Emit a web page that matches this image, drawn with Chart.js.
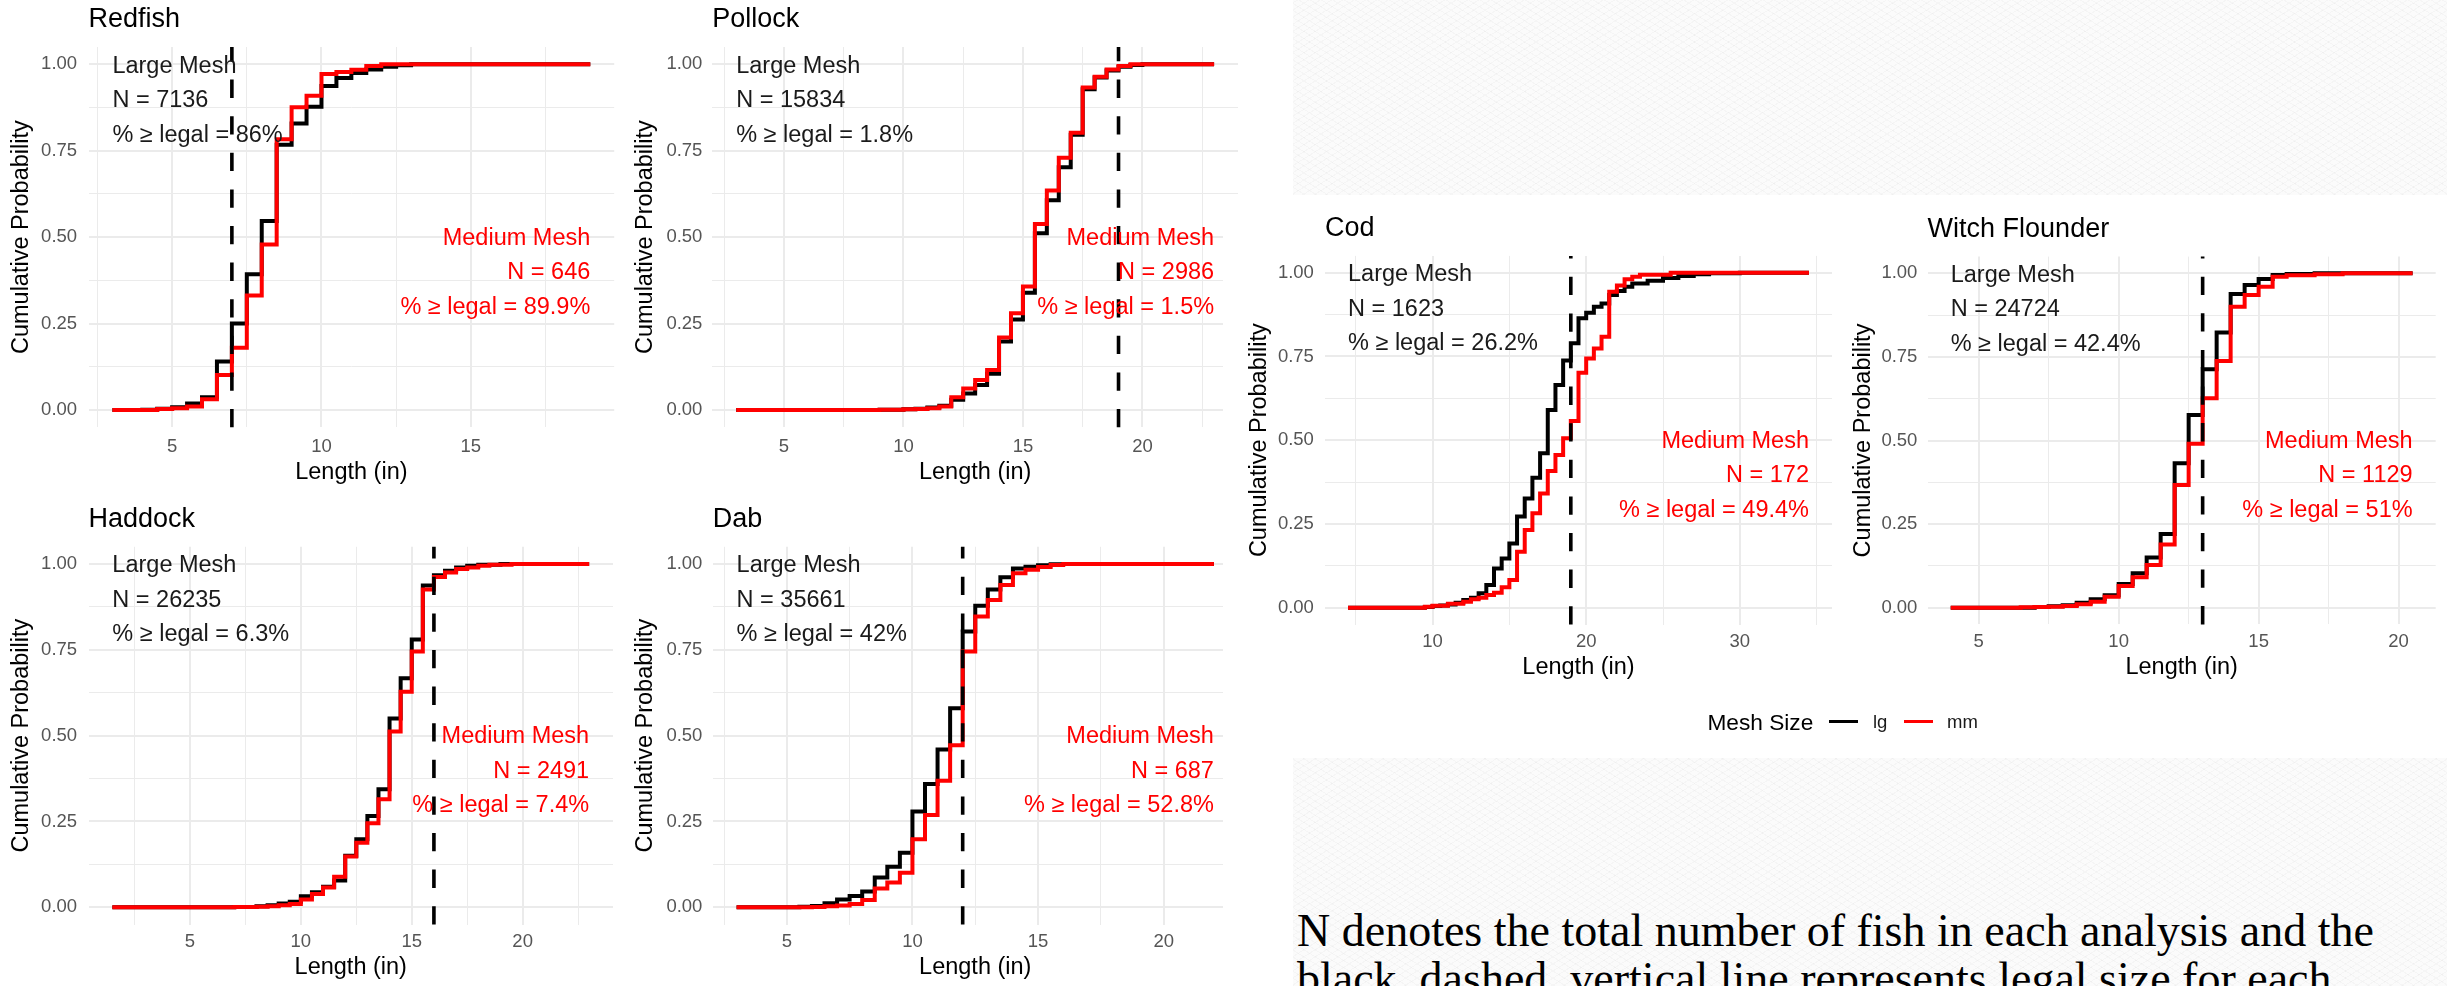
<!DOCTYPE html>
<html>
<head>
<meta charset="utf-8">
<title>Cumulative length distributions by mesh size</title>
<script src="https://cdn.jsdelivr.net/npm/chart.js"></script>
<style>
  html, body { margin: 0; padding: 0; background: #fff; }
  body { position: relative; width: 2447px; height: 986px; overflow: hidden; font-family: "Liberation Sans", Arial, sans-serif; }
  canvas { position: absolute; }
  .sheet { position: absolute; background: #fff; z-index: 2; }
  .texture {
    position: absolute; z-index: 3;
    background-color: #fbfbfb;
    background-image:
      repeating-linear-gradient(32deg, rgba(0,0,0,0.022) 0 1px, transparent 1px 6px),
      repeating-linear-gradient(-32deg, rgba(0,0,0,0.022) 0 1px, transparent 1px 6px);
  }
  #legend { position: absolute; left: 0; top: 706.7px; height: 30px; width: 2447px; z-index: 5; }
  #legend span { position: absolute; top: 0; line-height: 30px; white-space: nowrap; color: #1a1a1a; }
  #legend .key { top: 13.2px; height: 3.5px; width: 29.3px; }
  #caption {
    position: absolute; left: 1297px; top: 907px; z-index: 5;
    font: 46px/48px "Liberation Serif", "Times New Roman", serif; color: #000; white-space: nowrap;
  }
</style>
</head>
<body>
<div class="sheet" style="left:1223px; top:195px; width:1224px; height:791px;"></div>
<div class="texture" style="left:1293px; top:0; width:1154px; height:195px;"></div>
<div class="texture" style="left:1293px; top:758px; width:1154px; height:228px;"></div>

<div id="legend">
  <span style="left:1707.4px; font-size:22.7px; color:#000;">Mesh Size</span>
  <span class="key" style="left:1829px; background:#000;"></span>
  <span style="left:1873px; font-size:18.5px;">lg</span>
  <span class="key" style="left:1903.7px; background:#ff0000;"></span>
  <span style="left:1947px; font-size:18.5px;">mm</span>
</div>

<div id="caption">N denotes the total number of fish in each analysis and the<br>black, dashed, vertical line represents legal size for each</div>

<script>
// Panel order: Redfish, Pollock, Haddock, Dab (left block), then Cod and Witch Flounder
const species = ['Redfish', 'Pollock', 'Haddock', 'Dab', 'Cod', 'Witch Flounder'];
const legalSize = [7, 19, 16, 12, 19, 13];
const largeN = [7136, 15834, 26235, 35661, 1623, 24724];
const largePctLegal = [86, 1.8, 6.3, 42, 26.2, 42.4];
const mediumN = [646, 2986, 2491, 687, 172, 1129];
const mediumPctLegal = [89.9, 1.5, 7.4, 52.8, 49.4, 51];
const lengthBreaks = [[5, 10, 15], [5, 10, 15, 20], [5, 10, 15, 20], [5, 10, 15, 20], [10, 20, 30], [5, 10, 15, 20]];
const probBreaks = [0, 0.25, 0.5, 0.75, 1];

// ECDF break points (length in inches, cumulative probability), lg = large mesh, mm = medium mesh
const redfishLgLen = [3, 4, 4.5, 5, 5.5, 6, 6.5, 7, 7.5, 8, 8.5, 9, 9.5, 10, 10.5, 11, 11.5, 12, 12.5, 13, 19];
const redfishLgCum = [0, 0.001, 0.004, 0.008, 0.019, 0.037, 0.14, 0.25, 0.393, 0.547, 0.767, 0.829, 0.877, 0.937, 0.96, 0.975, 0.985, 0.993, 0.997, 1, 1];
const redfishMmLen = [3, 4.5, 5, 5.5, 6, 6.5, 7, 7.5, 8, 8.5, 9, 9.5, 10, 10.5, 11, 11.5, 12, 19];
const redfishMmCum = [0, 0.003, 0.005, 0.01, 0.031, 0.101, 0.18, 0.331, 0.479, 0.783, 0.876, 0.909, 0.972, 0.978, 0.984, 0.995, 1, 1];

const pollockLgLen = [3, 9, 10, 10.5, 11, 11.5, 12, 12.5, 13, 13.5, 14, 14.5, 15, 15.5, 16, 16.5, 17, 17.5, 18, 18.5, 19, 19.5, 20, 23];
const pollockLgCum = [0, 0.001, 0.002, 0.004, 0.007, 0.012, 0.03, 0.048, 0.072, 0.105, 0.198, 0.262, 0.339, 0.511, 0.607, 0.702, 0.796, 0.928, 0.962, 0.982, 0.993, 0.998, 1, 1];
const pollockMmLen = [3, 9, 10, 10.5, 11, 11.5, 12, 12.5, 13, 13.5, 14, 14.5, 15, 15.5, 16, 16.5, 17, 17.5, 18, 18.5, 19, 19.5, 23];
const pollockMmCum = [0, 0.001, 0.002, 0.003, 0.005, 0.01, 0.037, 0.062, 0.087, 0.116, 0.21, 0.28, 0.357, 0.538, 0.635, 0.73, 0.802, 0.933, 0.964, 0.985, 0.995, 1, 1];

const haddockLgLen = [1.5, 7, 8, 8.5, 9, 9.5, 10, 10.5, 11, 11.5, 12, 12.5, 13, 13.5, 14, 14.5, 15, 15.5, 16, 16.5, 17, 17.5, 18, 19, 23];
const haddockLgCum = [0, 0.001, 0.003, 0.006, 0.011, 0.016, 0.032, 0.044, 0.06, 0.078, 0.15, 0.198, 0.266, 0.344, 0.55, 0.667, 0.78, 0.937, 0.967, 0.98, 0.99, 0.995, 0.998, 1, 1];
const haddockMmLen = [1.5, 7, 8, 8.5, 9, 9.5, 10, 10.5, 11, 11.5, 12, 12.5, 13, 13.5, 14, 14.5, 15, 15.5, 16, 16.5, 17, 17.5, 18, 18.5, 19.5, 23];
const haddockMmCum = [0, 0.001, 0.002, 0.003, 0.006, 0.01, 0.023, 0.039, 0.058, 0.089, 0.148, 0.188, 0.245, 0.315, 0.512, 0.628, 0.745, 0.926, 0.962, 0.975, 0.985, 0.99, 0.995, 0.998, 1, 1];

const dabLgLen = [3, 5.5, 6, 6.5, 7, 7.5, 8, 8.5, 9, 9.5, 10, 10.5, 11, 11.5, 12, 12.5, 13, 13.5, 14, 14.5, 15, 15.5, 16, 22];
const dabLgCum = [0, 0.002, 0.004, 0.012, 0.023, 0.033, 0.046, 0.087, 0.118, 0.159, 0.279, 0.359, 0.46, 0.58, 0.803, 0.878, 0.926, 0.961, 0.987, 0.992, 0.996, 0.999, 1, 1];
const dabMmLen = [3, 6, 6.5, 7, 7.5, 8, 8.5, 9, 9.5, 10, 10.5, 11, 11.5, 12, 12.5, 13, 13.5, 14, 14.5, 15, 15.5, 16, 22];
const dabMmCum = [0, 0.001, 0.003, 0.005, 0.01, 0.021, 0.055, 0.072, 0.101, 0.198, 0.269, 0.369, 0.472, 0.745, 0.847, 0.895, 0.939, 0.973, 0.983, 0.991, 0.997, 1, 1];

const codLgLen = [4.5, 9.5, 10, 10.5, 11, 11.5, 12, 12.5, 13, 13.5, 14, 14.5, 15, 15.5, 16, 16.5, 17, 17.5, 18, 18.5, 19, 19.5, 20, 20.5, 21, 21.5, 22, 22.5, 23, 24, 25, 26, 27, 28, 30, 34.5];
const codLgCum = [0, 0.002, 0.005, 0.007, 0.01, 0.015, 0.023, 0.03, 0.043, 0.068, 0.117, 0.147, 0.192, 0.272, 0.326, 0.388, 0.461, 0.59, 0.665, 0.738, 0.789, 0.864, 0.88, 0.898, 0.908, 0.933, 0.945, 0.958, 0.968, 0.976, 0.984, 0.99, 0.995, 0.998, 1, 1];
const codMmLen = [4.5, 9.5, 10, 11, 12, 12.5, 13, 13.5, 14, 14.5, 15, 15.5, 16, 16.5, 17, 17.5, 18, 18.5, 19, 19.5, 20, 20.5, 21, 21.5, 22, 22.5, 23, 23.5, 25.5, 34.5];
const codMmCum = [0, 0.003, 0.006, 0.012, 0.018, 0.025, 0.03, 0.038, 0.045, 0.061, 0.083, 0.167, 0.232, 0.282, 0.341, 0.408, 0.456, 0.506, 0.557, 0.701, 0.744, 0.774, 0.809, 0.943, 0.962, 0.98, 0.988, 0.994, 1, 1];

const witchLgLen = [4, 7, 7.5, 8, 8.5, 9, 9.5, 10, 10.5, 11, 11.5, 12, 12.5, 13, 13.5, 14, 14.5, 15, 15.5, 16, 17, 20.5];
const witchLgCum = [0, 0.002, 0.004, 0.007, 0.015, 0.025, 0.037, 0.071, 0.103, 0.15, 0.22, 0.432, 0.576, 0.713, 0.823, 0.938, 0.965, 0.983, 0.995, 0.998, 1, 1];
const witchMmLen = [4, 6.5, 7, 7.5, 8, 8.5, 9, 9.5, 10, 10.5, 11, 11.5, 12, 12.5, 13, 13.5, 14, 14.5, 15, 15.5, 16, 17, 18, 20.5];
const witchMmCum = [0, 0.001, 0.002, 0.003, 0.005, 0.01, 0.018, 0.033, 0.065, 0.091, 0.128, 0.189, 0.367, 0.49, 0.626, 0.738, 0.9, 0.935, 0.96, 0.99, 0.994, 0.997, 1, 1];

const meshSeries = [
    [redfishLgLen, redfishLgCum, redfishMmLen, redfishMmCum],
    [pollockLgLen, pollockLgCum, pollockMmLen, pollockMmCum],
    [haddockLgLen, haddockLgCum, haddockMmLen, haddockMmCum],
    [dabLgLen, dabLgCum, dabMmLen, dabMmCum],
    [codLgLen, codLgCum, codMmLen, codMmCum],
    [witchLgLen, witchLgCum, witchMmLen, witchMmCum]
];

// Where each panel sits on the page (canvas box + plotting area, page pixels)
const frames = [
    { id: 'redfish', left: 0, top: 0, width: 615, height: 492, plot: { l: 88.5, t: 47, r: 614.2, b: 427.3 }, titleY: 20, yTitleX: 21.7, yPad: 11.4, xTickY: 447, xTitleY: 473, z: 1 },
    { id: 'pollock', left: 620, top: 0, width: 618, height: 492, plot: { l: 712.3, t: 47, r: 1238, b: 427.3 }, titleY: 20, yTitleX: 646, yPad: 9.9, xTickY: 447, xTitleY: 473, z: 1 },
    { id: 'haddock', left: 0, top: 492, width: 615, height: 494, plot: { l: 88.5, t: 546.8, r: 613, b: 924.5 }, titleY: 520, yTitleX: 21.7, yPad: 11.4, xTickY: 942, xTitleY: 968, z: 1 },
    { id: 'dab', left: 620, top: 492, width: 618, height: 494, plot: { l: 712.7, t: 546.8, r: 1237.8, b: 924.5 }, titleY: 520, yTitleX: 646, yPad: 10.3, xTickY: 942, xTitleY: 968, z: 1 },
    { id: 'cod', left: 1240, top: 200, width: 592, height: 486, plot: { l: 1325, t: 255.9, r: 1832, b: 624.5 }, titleY: 229, yTitleX: 1259.5, yPad: 11.1, xTickY: 641.7, xTitleY: 667.3, z: 4 },
    { id: 'witch', left: 1840, top: 200, width: 600, height: 486, plot: { l: 1927.6, t: 256.6, r: 2435.7, b: 624.4 }, titleY: 229.3, yTitleX: 1863.4, yPad: 10.2, xTickY: 641.7, xTitleY: 667.3, z: 4 }
];

const SANS = '"Liberation Sans", Arial, Helvetica, sans-serif';
const GRID = '#ebebeb';
const TITLE_SIZE = 27, TICK_SIZE = 18.5, AXIS_SIZE = 23.5, NOTE_SIZE = 23.5;
const LH = 1.2;

// Dashed legal-size line plus the two text blocks (large mesh top-left, medium mesh right)
const meshNotes = {
    id: 'meshNotes',
    afterDatasetsDraw(chart, args, opts) {
        const { ctx, chartArea, scales: { x, y } } = chart;
        ctx.save();

        const lx = x.getPixelForValue(opts.legal);
        ctx.strokeStyle = '#000';
        ctx.lineWidth = 3.6;
        ctx.setLineDash([18.3, 18.3]);
        ctx.beginPath();
        ctx.moveTo(lx, chartArea.bottom);
        ctx.lineTo(lx, chartArea.top);
        ctx.stroke();
        ctx.setLineDash([]);

        ctx.font = `${NOTE_SIZE}px ${SANS}`;
        ctx.textBaseline = 'middle';
        ctx.fillStyle = '#1a1a1a';
        ctx.textAlign = 'left';
        opts.large.forEach((line, k) => {
            ctx.fillText(line, x.getPixelForValue(opts.from), y.getPixelForValue(1) + 2 + k * 34.5);
        });
        ctx.fillStyle = '#ff0000';
        ctx.textAlign = 'right';
        opts.medium.forEach((line, k) => {
            ctx.fillText(line, x.getPixelForValue(opts.to), y.getPixelForValue(0.5) + 1 + k * 34.5);
        });
        ctx.restore();
    }
};

function buildPanel(i) {
    const f = frames[i];
    const [lgLen, lgCum, mmLen, mmCum] = meshSeries[i];

    // ggplot-style 5% expansion of the length range
    const lo = Math.min(lgLen[0], mmLen[0]);
    const hi = Math.max(lgLen[lgLen.length - 1], mmLen[mmLen.length - 1]);
    const xMin = lo - (hi - lo) * 0.05;
    const xMax = hi + (hi - lo) * 0.05;

    // major breaks plus the minor ones halfway between
    const majors = lengthBreaks[i];
    const half = (majors[1] - majors[0]) / 2;
    const xTicks = [];
    for (let v = majors[0] - half; v <= xMax; v += half) {
        if (v >= xMin) xTicks.push({ value: v, major: majors.includes(v) });
    }
    const yTicks = [];
    for (let k = 0; k <= 8; k++) {
        const v = k / 8;
        yTicks.push({ value: v, major: probBreaks.includes(v) });
    }

    const canvas = document.createElement('canvas');
    canvas.id = f.id;
    canvas.width = f.width;
    canvas.height = f.height;
    canvas.style.left = f.left + 'px';
    canvas.style.top = f.top + 'px';
    canvas.style.zIndex = f.z;
    document.body.appendChild(canvas);

    const titleLH = TITLE_SIZE * LH;
    const titlePadTop = f.titleY - f.top - titleLH / 2;
    const titlePadBottom = f.plot.t - f.top - titlePadTop - titleLH;
    const yWidth = f.plot.l - f.left;
    const xHeight = f.top + f.height - f.plot.b;

    const gridStyle = {
        color: GRID,
        lineWidth: c => (c.tick && c.tick.major ? 2 : 1),
        drawTicks: false
    };
    const stepLine = (len, cum, color) => ({
        data: len.map((x, k) => ({ x, y: cum[k] })),
        borderColor: color,
        borderWidth: 4,
        stepped: 'before',
        borderJoinStyle: 'miter',
        borderCapStyle: 'butt',
        pointRadius: 0,
        fill: false
    });

    return new Chart(canvas, {
        type: 'line',
        data: {
            // medium mesh first so it is drawn over the large mesh line
            datasets: [stepLine(mmLen, mmCum, '#ff0000'), stepLine(lgLen, lgCum, '#000000')]
        },
        options: {
            responsive: false,
            animation: false,
            devicePixelRatio: 1,
            events: [],
            layout: { padding: { left: 0, top: 0, bottom: 0, right: f.left + f.width - f.plot.r } },
            plugins: {
                legend: { display: false },
                tooltip: { enabled: false },
                title: {
                    display: true,
                    text: species[i],
                    align: 'start',
                    fullSize: false,
                    color: '#000',
                    font: { family: SANS, size: TITLE_SIZE, weight: 'normal', lineHeight: LH },
                    padding: { top: titlePadTop, bottom: titlePadBottom }
                },
                meshNotes: {
                    legal: legalSize[i],
                    from: lo,
                    to: hi,
                    large: ['Large Mesh', `N = ${largeN[i]}`, `% \u2265 legal = ${largePctLegal[i]}%`],
                    medium: ['Medium Mesh', `N = ${mediumN[i]}`, `% \u2265 legal = ${mediumPctLegal[i]}%`]
                }
            },
            scales: {
                x: {
                    type: 'linear',
                    min: xMin,
                    max: xMax,
                    afterBuildTicks: s => { s.ticks = xTicks.map(t => ({ ...t })); },
                    afterFit: s => { s.height = xHeight; },
                    grid: gridStyle,
                    border: { display: false },
                    ticks: {
                        autoSkip: false,
                        maxRotation: 0,
                        minRotation: 0,
                        color: '#555',
                        font: { family: SANS, size: TICK_SIZE, lineHeight: LH },
                        padding: f.xTickY - f.plot.b - TICK_SIZE * LH / 2,
                        callback: (v, k, ticks) => (ticks[k].major ? String(v) : '')
                    },
                    title: {
                        display: true,
                        text: 'Length (in)',
                        color: '#000',
                        font: { family: SANS, size: AXIS_SIZE, lineHeight: LH },
                        padding: { top: 0, bottom: f.top + f.height - f.xTitleY - AXIS_SIZE * LH / 2 }
                    }
                },
                y: {
                    type: 'linear',
                    min: -0.05,
                    max: 1.05,
                    afterBuildTicks: s => { s.ticks = yTicks.map(t => ({ ...t })); },
                    afterFit: s => { s.width = yWidth; },
                    grid: gridStyle,
                    border: { display: false },
                    ticks: {
                        autoSkip: false,
                        color: '#555',
                        font: { family: SANS, size: TICK_SIZE, lineHeight: LH },
                        padding: f.yPad,
                        callback: (v, k, ticks) => (ticks[k].major ? v.toFixed(2) : '')
                    },
                    title: {
                        display: true,
                        text: 'Cumulative Probability',
                        color: '#000',
                        font: { family: SANS, size: AXIS_SIZE, lineHeight: LH },
                        padding: { top: f.yTitleX - f.left - AXIS_SIZE * LH / 2, bottom: 0 }
                    }
                }
            }
        },
        plugins: [meshNotes]
    });
}

species.forEach((name, i) => buildPanel(i));
</script>
</body>
</html>
